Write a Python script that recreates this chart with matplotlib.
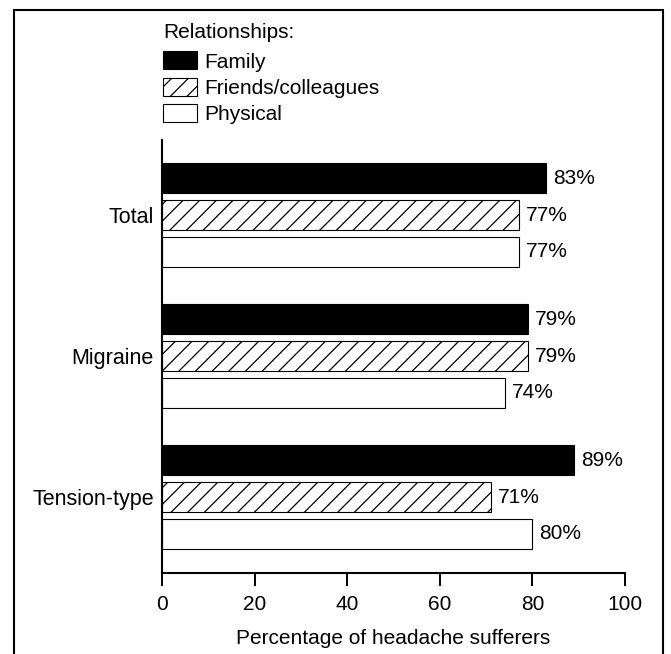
import matplotlib
matplotlib.use("Agg")
import matplotlib.pyplot as plt
from matplotlib.patches import Rectangle, Patch
import numpy as np

categories = ["Total", "Migraine", "Tension-type"]
series_names = ["Family", "Friends/colleagues", "Physical"]
family = [83, 79, 89]
friends = [77, 79, 71]
physical = [77, 74, 80]
xticks = [0, 20, 40, 60, 80, 100]
legend_title = "Relationships:"
xlabel = "Percentage of headache sufferers"

plt.rcParams['font.family'] = ['Liberation Sans', 'DejaVu Sans']
plt.rcParams['hatch.linewidth'] = 0.9
FS = 15

fig = plt.figure(figsize=(6.71, 6.54), dpi=100)
ax = fig.add_axes([162/671, 1 - 573/654, (625-162)/671, (573-140)/654])

group_y = np.array([2.0, 1.0, 0.0])
pitch = 0.262
h = 0.213
styles = [
    dict(facecolor="black", edgecolor="black", hatch=None),
    dict(facecolor="white", edgecolor="black", hatch="//"),
    dict(facecolor="white", edgecolor="black", hatch=None),
]
values = [family, friends, physical]
offsets = [pitch, 0.0, -pitch]
for vals, off, st, name in zip(values, offsets, styles, series_names):
    bars = ax.barh(group_y + off, vals, height=h, linewidth=0.8, label=name, **st)
    for b, v in zip(bars, vals):
        ax.annotate(f"{v}%", (v, b.get_y() + b.get_height() / 2), xytext=(5, 0),
                    textcoords="offset points", va="center", ha="left", fontsize=FS)

ax.set_xlim(0, 100)
ax.set_ylim(-0.539, 2.532)
ax.set_xticks(xticks)
ax.set_xticklabels([str(t) for t in xticks], fontsize=FS)
ax.set_yticks(group_y)
ax.set_yticklabels(categories, fontsize=FS)
for lbl in ax.get_yticklabels():
    lbl.set_fontsize(15.5)
ax.tick_params(axis="y", length=0, pad=6)
ax.tick_params(axis="x", length=9, width=1.4, direction="out", pad=7)
ax.set_xlabel(xlabel, fontsize=FS, labelpad=11)
for s in ["top", "right"]:
    ax.spines[s].set_visible(False)
for s in ["left", "bottom"]:
    ax.spines[s].set_linewidth(1.5)

handles = [Patch(facecolor="black", edgecolor="black", linewidth=0.8),
           Patch(facecolor="white", edgecolor="black", hatch="//", linewidth=0.8),
           Patch(facecolor="white", edgecolor="black", linewidth=0.8)]
leg = fig.legend(handles, series_names, title=legend_title, loc="upper left",
                 bbox_to_anchor=(163/671, 1 - 23/654), frameon=False, fontsize=FS,
                 title_fontsize=FS, borderpad=0, handlelength=1.63, handleheight=0.96,
                 handletextpad=0.35, labelspacing=0.3, alignment="left", borderaxespad=0)
leg._legend_box.sep = 6.7

frame = Rectangle((14/671, -0.05), (663-14)/671, 1.05 - 10/654, transform=fig.transFigure,
                  fill=False, edgecolor="black", linewidth=1.5, clip_on=False)
fig.patches.append(frame)

fig.savefig("out.png", dpi=100)
